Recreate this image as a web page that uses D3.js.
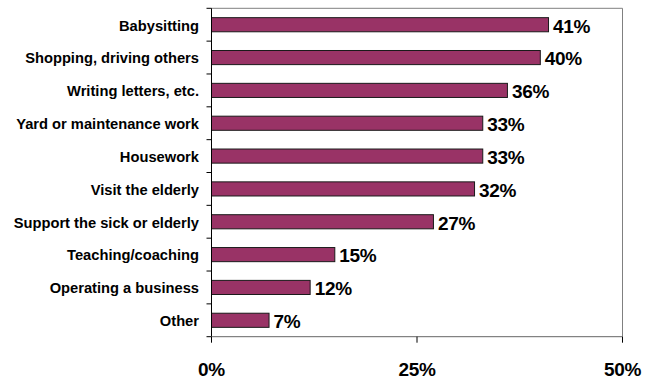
<!DOCTYPE html>
<html>
<head>
<meta charset="utf-8">
<script src="https://cdn.jsdelivr.net/npm/d3@7"></script>
<style>
  html, body { margin: 0; padding: 0; background: #ffffff; }
  svg { display: block; font-family: "Liberation Sans", Arial, Helvetica, sans-serif; }
</style>
</head>
<body>
<svg id="chart" width="655" height="379"></svg>
<script>
// Share of respondents by activity (percent)
const categories = [
  "Babysitting",
  "Shopping, driving others",
  "Writing letters, etc.",
  "Yard or maintenance work",
  "Housework",
  "Visit the elderly",
  "Support the sick or elderly",
  "Teaching/coaching",
  "Operating a business",
  "Other"
];
const values = [41, 40, 36, 33, 33, 32, 27, 15, 12, 7];
const xTicks = [0, 25, 50];

const W = 655, H = 379;
const margin = { top: 8.3, right: 32.5, bottom: 42.3, left: 211.5 };
const plotL = margin.left, plotR = W - margin.right;
const plotT = margin.top, plotB = H - margin.bottom;

const svg = d3.select("#chart");

const x = d3.scaleLinear().domain([0, 50]).range([plotL, plotR]);
const y = d3.scaleBand()
  .domain(categories)
  .range([plotT, plotB])
  .paddingInner(0.57)
  .paddingOuter(0.285);

// band boundaries for the category-axis tick marks
const edge = d3.scaleLinear().domain([0, categories.length]).range([plotT, plotB]);

// plot-area frame (top and right)
svg.append("path")
  .attr("d", `M${plotL},${plotT}H${plotR}V${plotB}`)
  .attr("fill", "none")
  .attr("stroke", "#808080")
  .attr("stroke-width", 1);

// bars
svg.append("g").selectAll("rect")
  .data(values)
  .join("rect")
  .attr("x", x(0))
  .attr("y", (d, i) => y(categories[i]))
  .attr("width", d => x(d) - x(0))
  .attr("height", y.bandwidth())
  .attr("fill", "#993366")
  .attr("stroke", "#1a1a1a")
  .attr("stroke-width", 1);

// value labels
svg.append("g").selectAll("text")
  .data(values)
  .join("text")
  .attr("x", d => x(d) + 4.5)
  .attr("y", (d, i) => y(categories[i]) + y.bandwidth() / 2 + 1)
  .attr("dy", "0.36em")
  .attr("font-size", "19px")
  .attr("font-weight", "bold")
  .attr("letter-spacing", "-0.3px")
  .attr("fill", "#000")
  .text(d => d + "%");

// category axis
const gy = svg.append("g");
gy.append("line")
  .attr("x1", plotL).attr("x2", plotL)
  .attr("y1", plotT).attr("y2", plotB)
  .attr("stroke", "#000").attr("stroke-width", 1);
gy.selectAll("line.tick")
  .data(d3.range(categories.length + 1))
  .join("line")
  .attr("class", "tick")
  .attr("x1", plotL - 5).attr("x2", plotL)
  .attr("y1", d => edge(d)).attr("y2", d => edge(d))
  .attr("stroke", "#000").attr("stroke-width", 1);
gy.selectAll("text")
  .data(categories)
  .join("text")
  .attr("x", plotL - 12.5)
  .attr("y", d => y(d) + y.bandwidth() / 2 + 0.5)
  .attr("dy", "0.36em")
  .attr("text-anchor", "end")
  .attr("font-size", "14.7px")
  .attr("font-weight", "bold")
  .attr("fill", "#000")
  .text(d => d);

// value axis
const gx = svg.append("g").attr("transform", `translate(0,${plotB})`);
gx.append("line")
  .attr("x1", plotL).attr("x2", plotR)
  .attr("stroke", "#666").attr("stroke-width", 1);
gx.selectAll("line.tick")
  .data(xTicks)
  .join("line")
  .attr("class", "tick")
  .attr("x1", d => x(d)).attr("x2", d => x(d))
  .attr("y1", 0).attr("y2", 6)
  .attr("stroke", "#000").attr("stroke-width", 1);
gx.selectAll("text")
  .data(xTicks)
  .join("text")
  .attr("x", d => x(d))
  .attr("y", 39.5)
  .attr("text-anchor", "middle")
  .attr("font-size", "19px")
  .attr("font-weight", "bold")
  .attr("letter-spacing", "-0.3px")
  .attr("fill", "#000")
  .text(d => d + "%");
</script>
</body>
</html>
